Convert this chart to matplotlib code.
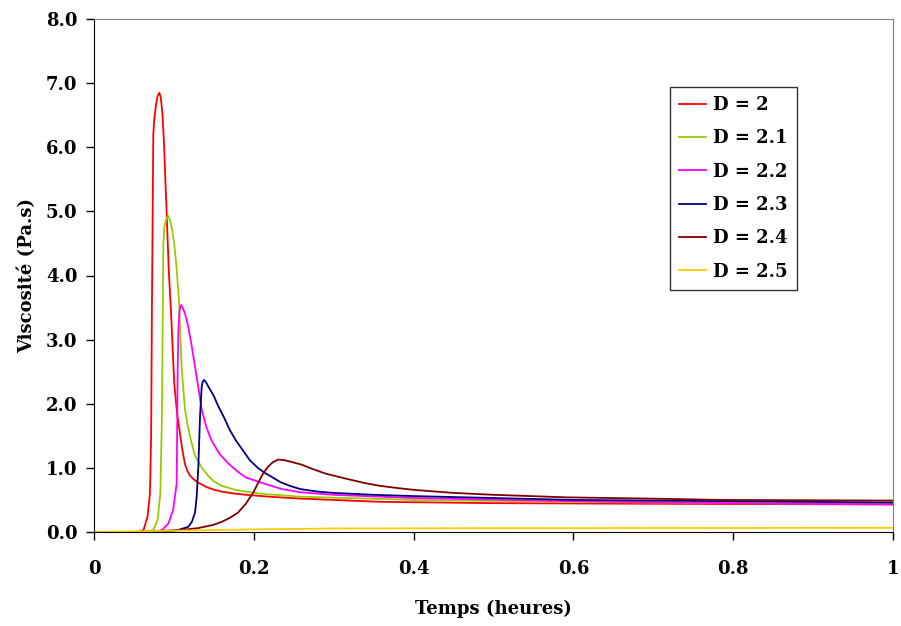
"""
Viscosité vs temps for several D values -- recreated from an Excel-style chart.
Output: out.png (901x626)
"""

import matplotlib
matplotlib.use("Agg")
import matplotlib.pyplot as plt

# -- Data --------------------------------------------------------------------

labels = ["D = 2", "D = 2.1", "D = 2.2", "D = 2.3", "D = 2.4", "D = 2.5"]
colors = ["#FF0000", "#99CC00", "#FF00FF", "#000080", "#800000", "#FFCC00"]

t_d20 = [0.0, 0.055, 0.062, 0.067, 0.070, 0.0715, 0.0725, 0.0742, 0.0755, 0.0775,
         0.0795, 0.0817, 0.0835, 0.0855, 0.0875, 0.089, 0.091, 0.0935, 0.0965, 0.1005,
         0.104, 0.108, 0.111, 0.114, 0.117, 0.120, 0.125, 0.129, 0.135, 0.141,
         0.150, 0.160, 0.175, 0.190, 0.220, 0.260, 0.300, 0.360, 0.500, 0.700, 1.0]
v_d20 = [0.0, 0.0, 0.03, 0.24, 0.6, 1.5, 3.5, 6.2, 6.45, 6.65,
         6.8, 6.85, 6.78, 6.55, 6.1, 5.6, 4.95, 4.1, 3.4, 2.3,
         1.85, 1.5, 1.25, 1.05, 0.95, 0.88, 0.82, 0.78, 0.74, 0.70,
         0.66, 0.63, 0.60, 0.58, 0.55, 0.52, 0.50, 0.47, 0.45, 0.44, 0.43]

t_d21 = [0.0, 0.065, 0.074, 0.0797, 0.083, 0.085, 0.0862, 0.0868, 0.088, 0.0905,
         0.093, 0.0955, 0.098, 0.1005, 0.1035, 0.1064, 0.108, 0.1097, 0.112, 0.114,
         0.117, 0.120, 0.126, 0.135, 0.142, 0.149, 0.160, 0.176, 0.195, 0.214,
         0.260, 0.400, 0.600, 0.800, 1.0]
v_d21 = [0.0, 0.0, 0.03, 0.19, 0.6, 1.8, 3.6, 4.5, 4.75, 4.88,
         4.93, 4.85, 4.7, 4.48, 4.1, 3.59, 3.1, 2.58, 2.2, 1.9,
         1.68, 1.5, 1.2, 1.0, 0.89, 0.8, 0.72, 0.66, 0.62, 0.59,
         0.55, 0.50, 0.47, 0.45, 0.44]

t_d22 = [0.0, 0.075, 0.085, 0.093, 0.099, 0.1035, 0.1047, 0.1055, 0.107, 0.1089,
         0.111, 0.114, 0.118, 0.122, 0.1264, 0.131, 0.135, 0.141, 0.147, 0.157,
         0.168, 0.180, 0.190, 0.214, 0.235, 0.258, 0.300, 0.400, 0.600, 0.800, 1.0]
v_d22 = [0.0, 0.0, 0.03, 0.13, 0.34, 0.76, 2.5, 3.1, 3.45, 3.54,
         3.5, 3.4, 3.2, 2.92, 2.58, 2.22, 1.9, 1.62, 1.43, 1.22,
         1.07, 0.94, 0.85, 0.75, 0.67, 0.62, 0.58, 0.53, 0.48, 0.45, 0.43]

t_d23 = [0.0, 0.090, 0.105, 0.118, 0.1225, 0.1264, 0.1285, 0.1306, 0.1327, 0.1348,
         0.1362, 0.1377, 0.140, 0.143, 0.150, 0.1556, 0.163, 0.170, 0.178, 0.186,
         0.195, 0.205, 0.214, 0.225, 0.233, 0.245, 0.258, 0.280, 0.300, 0.350,
         0.400, 0.500, 0.600, 0.800, 1.0]
v_d23 = [0.0, 0.0, 0.03, 0.08, 0.16, 0.30, 0.55, 1.02, 1.8, 2.27,
         2.35, 2.37, 2.34, 2.27, 2.12, 1.96, 1.78, 1.59, 1.42, 1.28,
         1.12, 1.0, 0.92, 0.84, 0.78, 0.72, 0.67, 0.63, 0.61, 0.58,
         0.56, 0.53, 0.50, 0.48, 0.46]

t_d24 = [0.0, 0.050, 0.108, 0.130, 0.149, 0.160, 0.170, 0.180, 0.190, 0.1995,
         0.206, 0.212, 0.218, 0.224, 0.2307, 0.238, 0.245, 0.260, 0.274, 0.290,
         0.316, 0.340, 0.358, 0.380, 0.402, 0.450, 0.500, 0.593, 0.700, 0.785, 1.0]
v_d24 = [0.0, 0.0, 0.03, 0.06, 0.11, 0.16, 0.22, 0.30, 0.44, 0.62,
         0.78, 0.92, 1.02, 1.09, 1.13, 1.12, 1.10, 1.05, 0.98, 0.91,
         0.83, 0.76, 0.72, 0.685, 0.655, 0.61, 0.58, 0.54, 0.52, 0.50, 0.49]

t_d25 = [0.0, 0.05, 0.10, 0.20, 0.30, 0.50, 1.0]
v_d25 = [0.0, 0.01, 0.02, 0.04, 0.055, 0.06, 0.065]

series_t = [t_d20, t_d21, t_d22, t_d23, t_d24, t_d25]
series_v = [v_d20, v_d21, v_d22, v_d23, v_d24, v_d25]

x_ticks = [0, 0.2, 0.4, 0.6, 0.8, 1.0]
x_tick_labels = ["0", "0.2", "0.4", "0.6", "0.8", "1"]
y_ticks = [0, 1, 2, 3, 4, 5, 6, 7, 8]

# -- Style ---------------------------------------------------------------------

FS = 13

plt.rcParams["font.family"] = "DejaVu Serif"
plt.rcParams["font.weight"] = "bold"

fig = plt.figure(figsize=(9.01, 6.26), dpi=100)
ax = fig.add_axes([94 / 901, 1 - 532 / 626, (893 - 94) / 901, (532 - 19) / 626])

for t, v, lab, col in zip(series_t, series_v, labels, colors):
    ax.plot(t, v, color=col, lw=1.3, label=lab)

ax.set_xlim(0, 1)
ax.set_ylim(0, 8)
ax.set_xticks(x_ticks)
ax.set_xticklabels(x_tick_labels)
ax.set_yticks(y_ticks)
ax.set_yticklabels([f"{y:.1f}" for y in y_ticks])
ax.tick_params(axis="both", direction="out", length=6, width=1, labelsize=FS)
ax.tick_params(axis="x", pad=14)
ax.tick_params(axis="y", pad=6)

for side in ("top", "right"):
    ax.spines[side].set_color("#808080")
for side in ("left", "bottom"):
    ax.spines[side].set_color("black")

ax.set_xlabel("Temps (heures)", fontsize=FS, fontweight="bold", labelpad=16)
ax.set_ylabel("Viscosité (Pa.s)", fontsize=FS, fontweight="bold", labelpad=7)

leg = ax.legend(loc="upper left", bbox_to_anchor=((670 - 94) / 799, (532 - 87) / 513),
                frameon=True, fancybox=False, edgecolor="black", fontsize=FS,
                handlelength=1.5, handletextpad=0.4, borderpad=0.5, labelspacing=0.85,
                borderaxespad=0)
leg.get_frame().set_linewidth(1.0)

fig.savefig("out.png", dpi=100, facecolor="white")
